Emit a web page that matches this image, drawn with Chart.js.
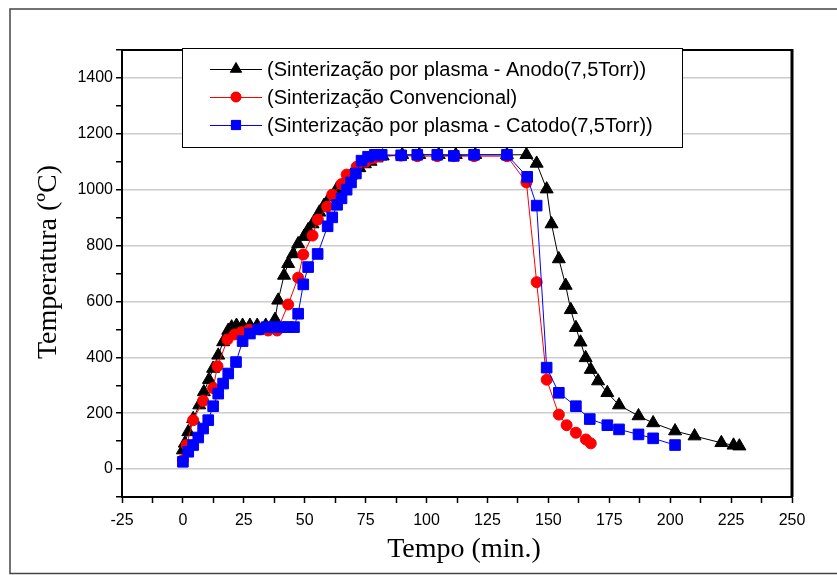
<!DOCTYPE html>
<html>
<head>
<meta charset="utf-8">
<script src="https://cdn.jsdelivr.net/npm/chart.js@4.4.1/dist/chart.umd.min.js"></script>
<style>
  html, body { margin: 0; padding: 0; background: #fff; }
  #wrap { width: 837px; height: 575px; }
</style>
</head>
<body>
<div id="wrap"><canvas id="chart" width="837" height="575"></canvas></div>
<script>
// Series labels
const seriesNames = [
  '(Sinterização por plasma - Anodo(7,5Torr))',
  '(Sinterização Convencional)',
  '(Sinterização por plasma - Catodo(7,5Torr))',
];

// Anodo (black triangles)
const anodoTime = [0, 0.8, 2.2, 4.2, 6.7, 8.6, 10.7, 12.4, 14.5, 16.5, 18.6, 20, 22, 24.5, 27.5, 30.5, 34,
  37.8, 39.1, 41.5, 43.2, 45.3, 47.3, 49.7, 51.4, 53.2, 56, 57.9, 60.3, 63.1, 66.1, 68.8, 72.4, 74.7, 77,
  79.5, 82, 90, 97, 105, 112, 120, 133, 141, 145.2, 149.3, 151.3, 154.3, 157.1, 159.2, 161.3, 163.2, 165.3,
  167.4, 170.4, 174.2, 179, 187, 193, 202, 210, 221, 226, 228.4];
const anodoTemp = [68, 92, 133, 180, 229, 276, 320, 360, 407, 455, 496, 508, 514, 514, 514, 514, 514,
  535, 604, 693, 735, 770, 806, 832, 856, 877, 919, 943, 973, 1002, 1026, 1050, 1078, 1092, 1101,
  1113, 1120, 1125, 1125, 1125, 1125, 1125, 1125, 1125, 1094, 1002, 877, 752, 657, 570, 506, 454, 398,
  356, 315, 273, 229, 190, 165, 136, 118, 94, 85, 82];

// Convencional (red circles)
const convTime = [0, 1.5, 4.2, 8.3, 12.4, 14.2, 18.3, 21.3, 24, 27.2, 31.6, 35, 38.7, 43.2, 47.3, 49.4,
  53.2, 55.4, 59.2, 61.3, 65.1, 67.2, 71.3, 75, 78, 81, 89.5, 96.2, 104.4, 111.2, 119.5, 133, 141, 145.2,
  149.3, 154.3, 157.5, 161.3, 165.4, 167.4];
const convTemp = [32, 86, 175, 244, 290, 368, 464, 482, 490, 499, 500, 496, 496, 589, 685, 768,
  836, 893, 939, 982, 1020, 1054, 1082, 1100, 1112, 1120, 1122, 1120, 1120, 1120, 1120, 1120, 1026, 669,
  320, 195, 157, 130, 106, 92];

// Catodo (blue squares)
const catodoTime = [0, 2.2, 4.2, 6.3, 8.3, 10.4, 12.4, 14.5, 16.5, 18.6, 21.8, 24.5, 27.5, 30.9, 34.4,
  37.8, 40.9, 43.2, 45.6, 47.3, 49.4, 51.4, 55.3, 59.4, 61.3, 63.3, 65.1, 67.2, 69, 71, 73.3, 76, 78.8,
  81.6, 89.6, 96.2, 104.4, 111.2, 119.5, 133, 141.3, 145.2, 149.3, 154.3, 161.3, 167, 174.2, 179, 187,
  193, 202];
const catodoTemp = [26, 62, 86, 113, 145, 175, 225, 270, 306, 342, 383, 458, 485, 500, 508,
  508, 508, 508, 508, 556, 661, 723, 770, 869, 901, 946, 969, 1000, 1026, 1058, 1104, 1118, 1125,
  1125, 1123, 1125, 1125, 1121, 1125, 1125, 1046, 943, 363, 273, 225, 179, 157, 142, 124,
  110, 86];

// Axis labels
const xTitle = 'Tempo (min.)';
const yTitle = 'Temperatura (ºC)';

function pairs(xs, ys) {
  return xs.map((x, i) => ({ x, y: ys[i] }));
}

const SANS = "'Liberation Sans', Arial, sans-serif";
const SERIF = "'Liberation Serif', 'Times New Roman', serif";

// Frame, top/right axes, titles and the in-plot legend
const decorations = {
  id: 'decorations',
  beforeDraw(chart) {
    const ctx = chart.ctx;
    ctx.save();
    ctx.fillStyle = '#fff';
    ctx.fillRect(0, 0, chart.width, chart.height);
    ctx.strokeStyle = '#444';
    ctx.lineWidth = 1.5;
    ctx.beginPath();
    ctx.moveTo(837, 9);
    ctx.lineTo(10, 9);
    ctx.lineTo(10, 573.5);
    ctx.lineTo(837, 573.5);
    ctx.stroke();
    ctx.restore();
  },
  afterDraw(chart) {
    const ctx = chart.ctx;
    const a = chart.chartArea;
    ctx.save();
    // top and right axis lines
    ctx.strokeStyle = '#000';
    ctx.lineWidth = 2;
    ctx.beginPath();
    ctx.moveTo(a.left, a.top);
    ctx.lineTo(a.right, a.top);
    ctx.stroke();
    ctx.lineWidth = 3;
    ctx.beginPath();
    ctx.moveTo(a.right, a.top - 1);
    ctx.lineTo(a.right, a.bottom);
    ctx.stroke();

    // axis titles
    ctx.fillStyle = '#000';
    ctx.font = '28px ' + SERIF;
    ctx.textAlign = 'center';
    ctx.textBaseline = 'middle';
    ctx.fillText(xTitle, 464, 550);
    ctx.translate(49, 262);
    ctx.rotate(-Math.PI / 2);
    ctx.fillText(yTitle, 0, 0);
    ctx.setTransform(1, 0, 0, 1, 0, 0);

    // legend box
    const bx = 182, by = 48, bw = 500, bh = 99;
    ctx.fillStyle = '#fff';
    ctx.fillRect(bx, by, bw, bh);
    ctx.strokeStyle = '#000';
    ctx.lineWidth = 1;
    ctx.strokeRect(bx + 0.5, by + 0.5, bw, bh);
    const rowY = [69, 97, 125];
    chart.data.datasets.forEach((ds, i) => {
      const y = rowY[i];
      ctx.strokeStyle = ds.borderColor;
      ctx.lineWidth = 1;
      ctx.beginPath();
      ctx.moveTo(210, y + 0.5);
      ctx.lineTo(262, y + 0.5);
      ctx.stroke();
      Chart.helpers.drawPoint(ctx, {
        pointStyle: ds.pointStyle,
        radius: ds.pointStyle === 'circle' ? 5 : 6.5,
        borderWidth: 1,
      }, 236, y);
      ctx.fillStyle = ds.pointBackgroundColor;
      ctx.fill();
      ctx.fillStyle = '#000';
      ctx.font = '20px ' + SANS;
      ctx.textAlign = 'left';
      ctx.textBaseline = 'middle';
      ctx.fillText(ds.label, 267, y + 1);
    });
    ctx.restore();
  },
};

const ctx = document.getElementById('chart').getContext('2d');
new Chart(ctx, {
  type: 'line',
  data: {
    datasets: [
      {
        label: seriesNames[0],
        data: pairs(anodoTime, anodoTemp),
        borderColor: '#000000',
        backgroundColor: '#000000',
        pointBackgroundColor: '#000000',
        pointBorderColor: '#000000',
        pointStyle: 'triangle',
        pointRadius: 7.5,
        borderWidth: 1,
        order: 3,
      },
      {
        label: seriesNames[1],
        data: pairs(convTime, convTemp),
        borderColor: '#ff0000',
        backgroundColor: '#ff0000',
        pointBackgroundColor: '#ff0000',
        pointBorderColor: '#ff0000',
        pointStyle: 'circle',
        pointRadius: 5.5,
        borderWidth: 1,
        order: 2,
      },
      {
        label: seriesNames[2],
        data: pairs(catodoTime, catodoTemp),
        borderColor: '#0000ff',
        backgroundColor: '#0000ff',
        pointBackgroundColor: '#0000ff',
        pointBorderColor: '#0000ff',
        pointStyle: 'rect',
        pointRadius: 7.5,
        borderWidth: 1,
        order: 1,
      },
    ],
  },
  options: {
    responsive: false,
    animation: false,
    events: [],
    layout: { padding: { left: 0, top: 50, right: 45, bottom: 0 } },
    elements: { line: { tension: 0 }, point: { borderWidth: 0 } },
    plugins: { legend: { display: false }, tooltip: { enabled: false } },
    scales: {
      x: {
        type: 'linear',
        min: -25,
        max: 250,
        afterFit: (s) => { s.height = 78; },
        border: { color: '#000', width: 2 },
        grid: {
          drawOnChartArea: false,
          tickColor: '#000',
          tickLength: 6,
          tickWidth: 1.5,
        },
        ticks: {
          stepSize: 12.5,
          autoSkip: false,
          maxRotation: 0,
          padding: 8,
          color: '#000',
          font: { family: SANS, size: 16 },
          callback: (v) => (v % 25 === 0 ? String(v) : ''),
        },
      },
      y: {
        type: 'linear',
        min: -100,
        max: 1500,
        afterFit: (s) => { s.width = 122; },
        border: { color: '#000', width: 2 },
        grid: {
          color: (c) => (c.tick && c.tick.value % 200 === 0 && c.tick.value >= 0 && c.tick.value <= 1400 ? '#cccccc' : 'rgba(0,0,0,0)'),
          lineWidth: 1.5,
          tickColor: '#000',
          tickLength: 6,
          tickWidth: 1.5,
        },
        ticks: {
          stepSize: 100,
          autoSkip: false,
          padding: 3,
          color: '#000',
          font: { family: SANS, size: 16 },
          callback: (v) => (v % 200 === 0 && v >= 0 && v <= 1400 ? String(v) : ''),
        },
      },
    },
  },
  plugins: [decorations],
});
</script>
</body>
</html>
